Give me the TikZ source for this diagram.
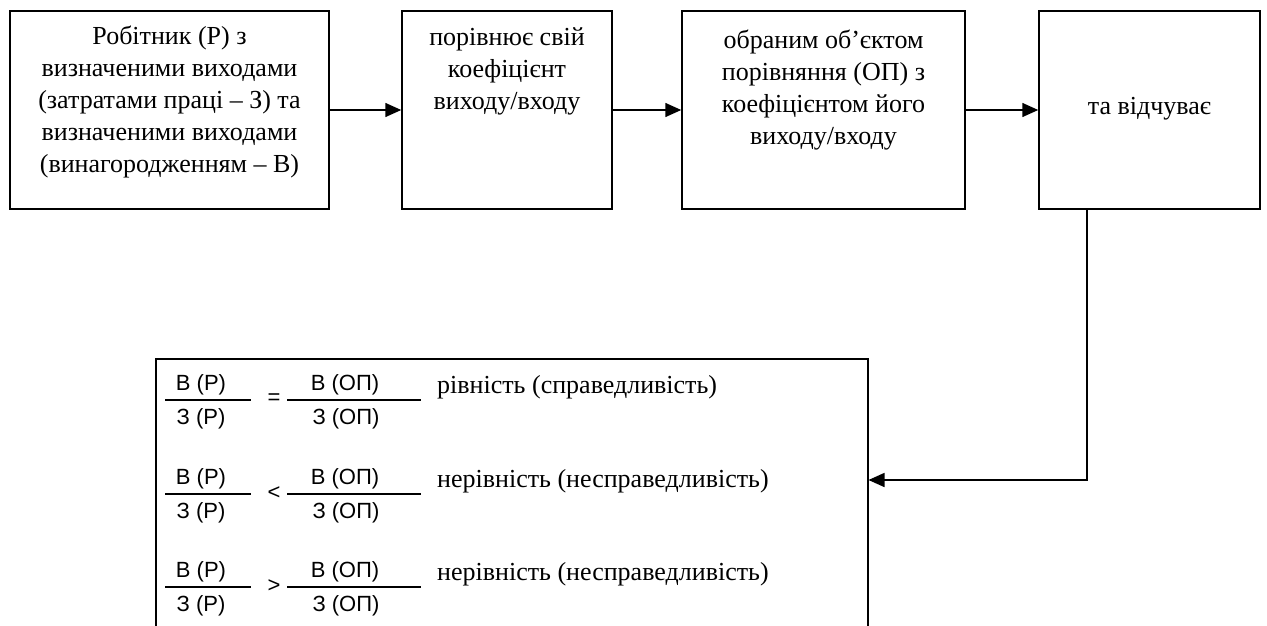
\documentclass[tikz,border=0pt]{standalone}
\usepackage{fontspec}
\setmainfont{Liberation Serif}
\newfontfamily\fracfont{Liberation Sans}
\usetikzlibrary{arrows.meta,calc}
\newcommand\fracrow[4]{%
  \draw[fline] (165,#1) -- (251,#1);
  \node[ff] (n1#4) at (201,#1+15) {В (Р)};
  \node[ff] (d1#4) at (201,#1-19) {З (Р)};
  \node[ff] (r#4) at (274,#1+1) {#2};
  \draw[fline] (287,#1) -- (421,#1);
  \node[ff] (n2#4) at (345,#1+15) {В (ОП)};
  \node[ff] (d2#4) at (346,#1-19) {З (ОП)};
  \node[tx,anchor=west] (t#4) at (437,#1+13) {#3};
}
\begin{document}
\begin{tikzpicture}[x=1pt,y=1pt,
  box/.style={draw,line width=1.5pt,inner sep=0pt},
  tx/.style={inner sep=0pt,align=center,font=\fontsize{26}{32}\selectfont,
    execute at begin node={\setlength{\baselineskip}{32pt}}},
  ff/.style={inner sep=0pt,font=\fracfont\fontsize{22}{26}\selectfont},
  fline/.style={line width=1.3pt},
  arr/.style={line width=1.5pt,-{Triangle[length=16pt,width=14pt]}}]
\useasboundingbox (0,0) rectangle (1267,-626);
\clip (0,0) rectangle (1267,-626);
\node[box,minimum width=319pt,minimum height=198pt] (b1) at (169.5,-110) {};
\node[box,minimum width=210pt,minimum height=198pt] (b2) at (507,-110) {};
\node[box,minimum width=283pt,minimum height=198pt] (b3) at (823.5,-110) {};
\node[box,minimum width=221pt,minimum height=198pt] (b4) at (1149.5,-110) {};
\node[tx] (t1) at (169.5,-102) {Робітник (Р) з\\визначеними виходами\\(затратами праці – З) та\\визначеними виходами\\(винагородженням – В)};
\node[tx] (t2) at (507,-71) {порівнює свій\\коефіцієнт\\виходу/входу};
\node[tx] (t3) at (823.5,-90) {обраним об’єктом\\порівняння (ОП) з\\коефіцієнтом його\\виходу/входу};
\node[tx] (t4) at (1149.5,-109) {та відчуває};
\draw[arr] (b1.east) -- (b2.west);
\draw[arr] (b2.east) -- (b3.west);
\draw[arr] (b3.east) -- (b4.west);
\node[box,anchor=north west,minimum width=712pt,minimum height=400pt] (res) at (155,-358) {};
\coordinate (turn) at (1087,-480);
\draw[arr] (b4.south -| turn) -- (turn) -- (res.east |- turn);
\fracrow{-400}{=}{рівність (справедливість)}{a}
\fracrow{-494}{<}{нерівність (несправедливість)}{b}
\fracrow{-587}{>}{нерівність (несправедливість)}{c}
\end{tikzpicture}
\end{document}
